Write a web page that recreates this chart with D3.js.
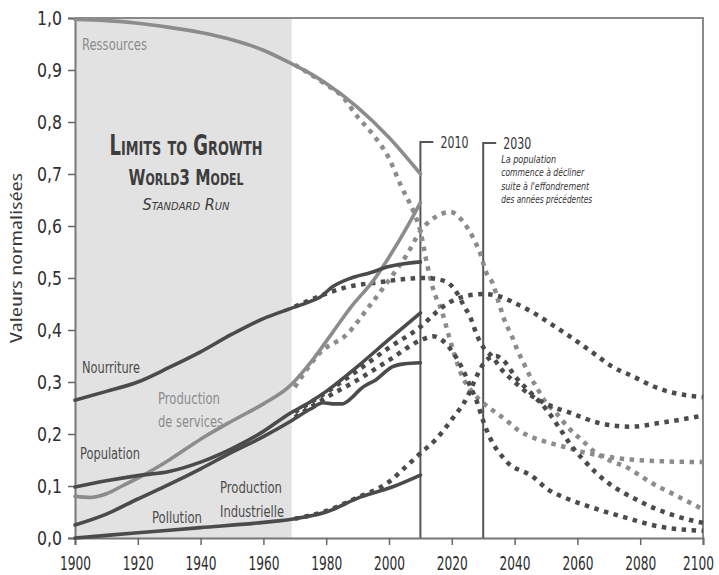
<!DOCTYPE html>
<html>
<head>
<meta charset="utf-8">
<script src="https://cdn.jsdelivr.net/npm/d3@7"></script>
<style>
  body { margin: 0; background: #fff; }
  text { font-family: "DejaVu Sans Condensed", "DejaVu Sans", sans-serif; font-stretch: condensed; }
</style>
</head>
<body>
<div id="chart"></div>
<script>
// observed (solid) and standard run (dotted) values, [year, normalised value]
var resourcesObs = [[1900,0.997],[1910,0.995],[1920,0.99],[1930,0.982],[1940,0.972],[1950,0.958],[1960,0.938],[1968,0.915],[1975,0.893],[1980,0.874],[1990,0.828],[2000,0.77],[2010,0.70]];
var resourcesRun = [[1970,0.91],[1980,0.872],[1985,0.85],[1990,0.81],[1995,0.775],[2000,0.73],[2004,0.675],[2008,0.625],[2010,0.59],[2012,0.53],[2014,0.48],[2017,0.433],[2019,0.39],[2021,0.35],[2023,0.315],[2026,0.285],[2029,0.265],[2032,0.25],[2035,0.237],[2038,0.223],[2041,0.208],[2044,0.198],[2050,0.185],[2056,0.175],[2062,0.165],[2068,0.158],[2075,0.152],[2085,0.148],[2100,0.146]];

var servicesObs = [[1900,0.08],[1905,0.078],[1910,0.085],[1915,0.1],[1920,0.115],[1930,0.15],[1940,0.19],[1950,0.225],[1960,0.258],[1968,0.29],[1976,0.345],[1982,0.395],[1988,0.445],[1995,0.495],[2000,0.54],[2005,0.59],[2010,0.645]];
var servicesRun = [[1970,0.29],[1978,0.356],[1987,0.394],[1993,0.44],[2000,0.496],[2006,0.548],[2010,0.59],[2015,0.618],[2019.5,0.627],[2024,0.605],[2027,0.575],[2029,0.548],[2031,0.51],[2033,0.49],[2035,0.452],[2037,0.415],[2039,0.39],[2041,0.36],[2043,0.335],[2045,0.31],[2047,0.29],[2050,0.26],[2053,0.242],[2057,0.213],[2062,0.185],[2066,0.163],[2070,0.15],[2076,0.135],[2083,0.108],[2092,0.08],[2100,0.055]];

var foodObs = [[1900,0.265],[1910,0.282],[1920,0.3],[1930,0.328],[1940,0.358],[1950,0.392],[1960,0.422],[1968,0.44],[1975,0.455],[1978,0.463],[1982,0.483],[1988,0.5],[1994,0.51],[2000,0.522],[2010,0.531]];
var foodRun = [[1970,0.445],[1975,0.458],[1980,0.47],[1987,0.483],[1997,0.492],[2005,0.498],[2012,0.5],[2016,0.497],[2019,0.49],[2021,0.477],[2024,0.445],[2026,0.423],[2028,0.39],[2030,0.367],[2033,0.348],[2036,0.323],[2040,0.3],[2045,0.275],[2050,0.258],[2058,0.24],[2067,0.221],[2077,0.214],[2086,0.221],[2098,0.233],[2100,0.235]];

var populationObs = [[1900,0.098],[1910,0.11],[1920,0.12],[1930,0.128],[1940,0.146],[1950,0.172],[1960,0.205],[1968,0.238],[1975,0.262],[1980,0.282],[1990,0.33],[2000,0.382],[2010,0.433]];
var populationRun = [[1970,0.242],[1980,0.28],[1990,0.322],[2000,0.366],[2010,0.406],[2017,0.444],[2022,0.461],[2030,0.469],[2035,0.465],[2040,0.452],[2046,0.433],[2052,0.41],[2058,0.386],[2065,0.356],[2071,0.33],[2078,0.31],[2084,0.292],[2090,0.28],[2100,0.271]];

var industryObs = [[1900,0.025],[1910,0.046],[1920,0.075],[1930,0.103],[1940,0.133],[1950,0.165],[1960,0.195],[1968,0.222],[1975,0.248],[1979,0.26],[1982,0.258],[1985,0.258],[1988,0.269],[1991,0.287],[1996,0.305],[2001,0.329],[2005,0.335],[2010,0.337]];
var industryRun = [[1970,0.232],[1980,0.27],[1990,0.304],[2000,0.342],[2010,0.38],[2014,0.388],[2017,0.38],[2020,0.36],[2023,0.33],[2026,0.29],[2028,0.262],[2030,0.225],[2032,0.195],[2037,0.15],[2046,0.117],[2050,0.096],[2057,0.075],[2065,0.058],[2076,0.038],[2086,0.022],[2100,0.014]];

var pollutionObs = [[1900,0.0],[1920,0.01],[1940,0.02],[1960,0.03],[1970,0.037],[1980,0.05],[1991,0.079],[2001,0.098],[2010,0.121]];
var pollutionRun = [[1970,0.037],[1980,0.052],[1990,0.078],[2000,0.108],[2005,0.135],[2010,0.163],[2015,0.19],[2020,0.228],[2025,0.272],[2028,0.312],[2031,0.342],[2034,0.35],[2037,0.338],[2040,0.312],[2045,0.28],[2050,0.248],[2055,0.205],[2058,0.178],[2062,0.15],[2066,0.125],[2070,0.105],[2075,0.086],[2080,0.07],[2085,0.056],[2090,0.045],[2095,0.036],[2100,0.029]];

var yTicks = [0, 0.1, 0.2, 0.3, 0.4, 0.5, 0.6, 0.7, 0.8, 0.9, 1.0];
var xTicks = [1900, 1920, 1940, 1960, 1980, 2000, 2020, 2040, 2060, 2080, 2100];
var historyEnd = 1969;
var markYears = [2010, 2030];
var noteLines = ["La population", "commence à décliner", "suite à l'effondrement", "des années précédentes"];

var width = 719, height = 575;
var x = d3.scaleLinear().domain([1900, 2100]).range([75, 703]);
var y = d3.scaleLinear().domain([0, 1]).range([538, 18]);
var dark = "#4b4b4b", grey = "#8c8c8c";

var frFormat = d3.formatLocale({decimal: ",", thousands: " ", grouping: [3], currency: ["", "€"]}).format(".1f");

// squeeze a text to the width it has in the picture (narrow font look)
function fit(sel, w) {
	sel.attr("textLength", w).attr("lengthAdjust", "spacingAndGlyphs");
}
// same idea for tick labels, done with a horizontal scale about the anchor
function squeeze(sel, w, dx) {
	sel.each(function(d) {
		var t = d3.select(this);
		var s = w / this.getComputedTextLength();
		var off = dx(d, t);
		t.attr("x", 0).attr("transform", "translate(" + off + ",0) scale(" + s + ",1)");
	});
}

var svg = d3.select("#chart").append("svg")
	.attr("width", width)
	.attr("height", height);

// shaded history zone
svg.append("rect")
	.attr("x", x(1900))
	.attr("y", y(1))
	.attr("width", x(historyEnd) - x(1900))
	.attr("height", y(0) - y(1))
	.attr("fill", "#e2e2e2");

// frame top/right
svg.append("path")
	.attr("d", "M" + x(1900) + "," + y(1) + "H" + x(2100) + "V" + y(0))
	.attr("fill", "none")
	.attr("stroke", "#8a8a8a")
	.attr("stroke-width", 2);

var yAxis = svg.append("g")
	.attr("transform", "translate(" + x(1900) + ",0)")
	.call(d3.axisLeft(y).tickValues(yTicks).tickSize(7).tickPadding(6).tickFormat(frFormat));
var xAxis = svg.append("g")
	.attr("transform", "translate(0," + y(0) + ")")
	.call(d3.axisBottom(x).tickValues(xTicks).tickSize(7).tickPadding(11).tickFormat(d3.format("d")));

[yAxis, xAxis].forEach(function(g) {
	g.select(".domain").attr("stroke", "#777").attr("stroke-width", 2);
	g.selectAll(".tick line").attr("stroke", "#666").attr("stroke-width", 1.5);
	g.selectAll(".tick text")
		.attr("fill", "#2e2e2e")
		.style("font-size", "20px")
		.style("font-family", "'DejaVu Sans Condensed', 'DejaVu Sans', sans-serif");
});
squeeze(yAxis.selectAll(".tick text"), 25, function() { return -13; });
// the 2100 label is pulled in a little from the page edge, as in the picture
squeeze(xAxis.selectAll(".tick text"), 31, function(d) { return d === 2100 ? -5 : 0; });

svg.append("text")
	.attr("transform", "translate(22," + 258 + ") rotate(-90)")
	.attr("text-anchor", "middle")
	.style("font-family", "'Open Sans', sans-serif")
	.style("font-size", "17px")
	.attr("fill", "#3a3a3a")
	.attr("textLength", 170)
	.attr("lengthAdjust", "spacingAndGlyphs")
	.text("Valeurs normalisées");

// 2010 / 2030 markers
markYears.forEach(function(yr, i) {
	var top = 142 + i;
	svg.append("path")
		.attr("d", "M" + x(yr) + "," + y(0) + "V" + top + "H" + (x(yr) + 13))
		.attr("fill", "none")
		.attr("stroke", "#555")
		.attr("stroke-width", 2);
	svg.append("text")
		.attr("x", x(yr) + 20)
		.attr("y", top + 6)
		.style("font-size", "15px")
		.attr("fill", "#333")
		.call(fit, 28)
		.text(yr);
});

var noteWidths = [55, 83, 88, 91];
svg.selectAll(".note")
	.data(noteLines)
	.enter()
	.append("text")
	.attr("class", "note")
	.attr("x", x(2030) + 18)
	.attr("y", function(d, i) { return 163 + i * 13.3; })
	.style("font-size", "11px")
	.style("font-style", "italic")
	.attr("fill", "#333")
	.attr("textLength", function(d, i) { return noteWidths[i]; })
	.attr("lengthAdjust", "spacingAndGlyphs")
	.text(function(d) { return d; });

var line = d3.line()
	.x(function(d) { return x(d[0]); })
	.y(function(d) { return y(d[1]); })
	.curve(d3.curveMonotoneX);

var series = [
	{obs: resourcesObs, run: resourcesRun, color: grey},
	{obs: servicesObs, run: servicesRun, color: grey},
	{obs: foodObs, run: foodRun, color: dark},
	{obs: populationObs, run: populationRun, color: dark},
	{obs: industryObs, run: industryRun, color: dark},
	{obs: pollutionObs, run: pollutionRun, color: dark}
];

var grp = svg.append("g");

grp.selectAll(".run")
	.data(series)
	.enter()
	.append("path")
	.attr("class", "run")
	.attr("fill", "none")
	.attr("stroke", function(d) { return d.color; })
	.attr("stroke-width", 4.5)
	.attr("stroke-dasharray", "4.5,5.5")
	.attr("d", function(d) { return line(d.run); });

grp.selectAll(".obs")
	.data(series)
	.enter()
	.append("path")
	.attr("class", "obs")
	.attr("fill", "none")
	.attr("stroke", function(d) { return d.color; })
	.attr("stroke-width", 3.6)
	.attr("stroke-linecap", "round")
	.attr("d", function(d) { return line(d.obs); });

// curve labels, one text per line with its width in the picture
var labels = [
	{t: "Ressources", x: 82, y: 50, w: 65, c: grey},
	{t: "Nourriture", x: 82, y: 373, w: 58, c: dark},
	{t: "Production", x: 158, y: 404, w: 62, c: grey},
	{t: "de services", x: 158, y: 427, w: 65, c: grey},
	{t: "Population", x: 80, y: 459, w: 60, c: dark},
	{t: "Production", x: 220, y: 493, w: 62, c: dark},
	{t: "Industrielle", x: 220, y: 517, w: 64, c: dark},
	{t: "Pollution", x: 152, y: 523, w: 50, c: dark}
];
svg.selectAll(".lbl")
	.data(labels)
	.enter()
	.append("text")
	.attr("class", "lbl")
	.attr("x", function(d) { return d.x; })
	.attr("y", function(d) { return d.y; })
	.attr("fill", function(d) { return d.c; })
	.style("font-size", "16px")
	.attr("textLength", function(d) { return d.w; })
	.attr("lengthAdjust", "spacingAndGlyphs")
	.text(function(d) { return d.t; });

// title block
var title = svg.append("g").attr("text-anchor", "middle").attr("fill", "#3d3d3d");
title.append("text")
	.attr("x", 186).attr("y", 155)
	.style("font-size", "28px").style("font-weight", "bold").style("font-variant", "small-caps")
	.call(fit, 153)
	.text("Limits to Growth");
title.append("text")
	.attr("x", 186).attr("y", 185)
	.style("font-size", "21px").style("font-weight", "bold").style("font-variant", "small-caps")
	.call(fit, 115)
	.text("World3 Model");
title.append("text")
	.attr("x", 186).attr("y", 210)
	.style("font-size", "16px").style("font-style", "italic").style("font-variant", "small-caps")
	.call(fit, 87)
	.text("Standard Run");
</script>
</body>
</html>
